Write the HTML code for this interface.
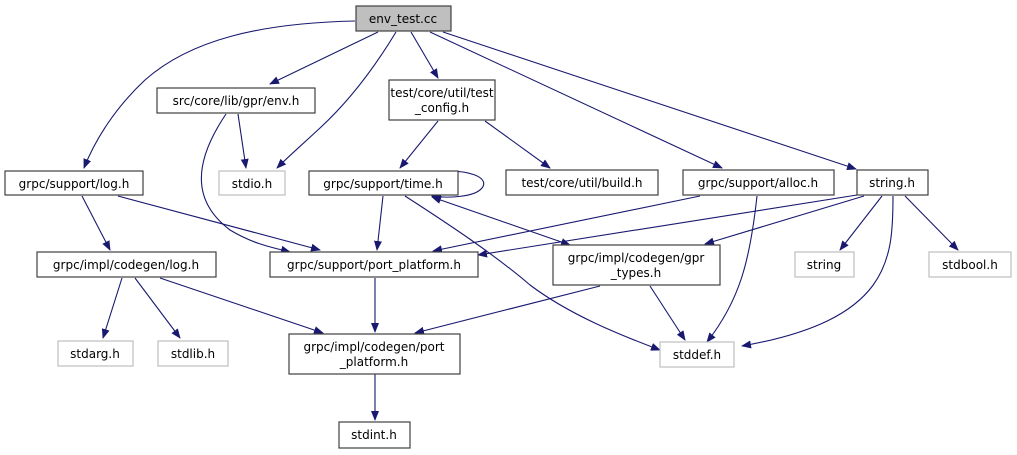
<!DOCTYPE html>
<html><head><meta charset="utf-8"><style>
html,body{margin:0;padding:0;background:#fff;width:1017px;height:455px;overflow:hidden}
text{font-family:"DejaVu Sans","Liberation Sans",sans-serif;font-size:12px;fill:#000}
</style></head><body>
<svg width="1017" height="455" viewBox="0 0 1017 455" xmlns="http://www.w3.org/2000/svg">
<defs>
<marker id="a" markerWidth="10" markerHeight="8" refX="9" refY="4" orient="auto" markerUnits="userSpaceOnUse"><path d="M0,0 L10,4 L0,8 Z" fill="#191970"/></marker>
<marker id="b" markerWidth="10" markerHeight="8" refX="1" refY="4" orient="auto" markerUnits="userSpaceOnUse"><path d="M10,0 L0,4 L10,8 Z" fill="#191970"/></marker>
</defs>
<g fill="none" stroke="#191970" stroke-width="1.1" marker-end="url(#a)">
<path d="M355,21 C260,23 190,40 145,80 C115,108 95,140 84,168"/>
<path d="M378,32 L270,84"/>
<path d="M396,32 C370,75 345,105 320,128 C305,142 290,155 277,168"/>
<path d="M411,32 L438,78"/>
<path d="M430,32 L722,168"/>
<path d="M443,32 L856,169"/>
<path d="M238,114 L246,168"/>
<path d="M226,114 C195,160 190,200 230,230 C255,245 275,248 290,252"/>
<path d="M438,121 L400,168"/>
<path d="M485,121 L550,168"/>
<path d="M82,196 L110,250"/>
<path d="M118,196 L320,250"/>
<path d="M383,196 L377,250"/>
<path d="M405,196 C450,225 495,255 530,285 C570,315 620,335 660,350"/>
<path d="M432,197 L570,245" marker-start="url(#b)"/>
<path d="M432,172 C470,168 490,178 482,188 C474,198 445,198 432,196"/>
<path d="M700,196 L433,251"/>
<path d="M757,196 C750,260 740,300 707,342"/>
<path d="M857,195 L478,255"/>
<path d="M864,196 L705,244"/>
<path d="M882,196 L840,250"/>
<path d="M905,196 L958,250"/>
<path d="M893,196 C893,260 890,320 742,346"/>
<path d="M600,286 L415,333"/>
<path d="M650,286 L685,340"/>
<path d="M122,278 L103,338"/>
<path d="M135,278 L180,338"/>
<path d="M160,278 L323,333"/>
<path d="M375,278 L375,332"/>
<path d="M375,374 L375,420"/>
</g>
<g stroke-width="1.2">
<rect x="356" y="6" width="95" height="25" fill="#bfbfbf" stroke="#404040"/>
<rect x="157" y="88" width="158" height="25" fill="#fff" stroke="#404040"/>
<rect x="389" y="80" width="106" height="40" fill="#fff" stroke="#404040"/>
<rect x="5" y="171" width="138" height="24" fill="#fff" stroke="#404040"/>
<rect x="219" y="171" width="66" height="24" fill="#fff" stroke="#bfbfbf"/>
<rect x="309" y="171" width="149" height="24" fill="#fff" stroke="#404040"/>
<rect x="506" y="170" width="152" height="25" fill="#fff" stroke="#404040"/>
<rect x="683" y="170" width="151" height="25" fill="#fff" stroke="#404040"/>
<rect x="857" y="170" width="71" height="25" fill="#fff" stroke="#404040"/>
<rect x="37" y="252" width="179" height="25" fill="#fff" stroke="#404040"/>
<rect x="270" y="252" width="208" height="25" fill="#fff" stroke="#404040"/>
<rect x="553" y="245" width="167" height="40" fill="#fff" stroke="#404040"/>
<rect x="795" y="252" width="59" height="25" fill="#fff" stroke="#bfbfbf"/>
<rect x="929" y="252" width="82" height="25" fill="#fff" stroke="#bfbfbf"/>
<rect x="58" y="341" width="75" height="25" fill="#fff" stroke="#bfbfbf"/>
<rect x="158" y="341" width="70" height="25" fill="#fff" stroke="#bfbfbf"/>
<rect x="289" y="334" width="171" height="40" fill="#fff" stroke="#404040"/>
<rect x="660" y="342" width="74" height="25" fill="#fff" stroke="#bfbfbf"/>
<rect x="339" y="422" width="71" height="26" fill="#fff" stroke="#404040"/>
</g>
<g text-anchor="middle">
<text x="403" y="23">env_test.cc</text>
<text x="236" y="105">src/core/lib/gpr/env.h</text>
<text x="442" y="97">test/core/util/test</text>
<text x="442" y="112">_config.h</text>
<text x="74" y="188">grpc/support/log.h</text>
<text x="252" y="188">stdio.h</text>
<text x="383" y="188">grpc/support/time.h</text>
<text x="582" y="187">test/core/util/build.h</text>
<text x="758" y="187">grpc/support/alloc.h</text>
<text x="892" y="187">string.h</text>
<text x="126" y="269">grpc/impl/codegen/log.h</text>
<text x="374" y="269">grpc/support/port_platform.h</text>
<text x="636" y="262">grpc/impl/codegen/gpr</text>
<text x="636" y="277">_types.h</text>
<text x="824" y="269">string</text>
<text x="970" y="269">stdbool.h</text>
<text x="95" y="358">stdarg.h</text>
<text x="193" y="358">stdlib.h</text>
<text x="374" y="351">grpc/impl/codegen/port</text>
<text x="374" y="366">_platform.h</text>
<text x="697" y="359">stddef.h</text>
<text x="374" y="439">stdint.h</text>
</g>
</svg>
</body></html>
